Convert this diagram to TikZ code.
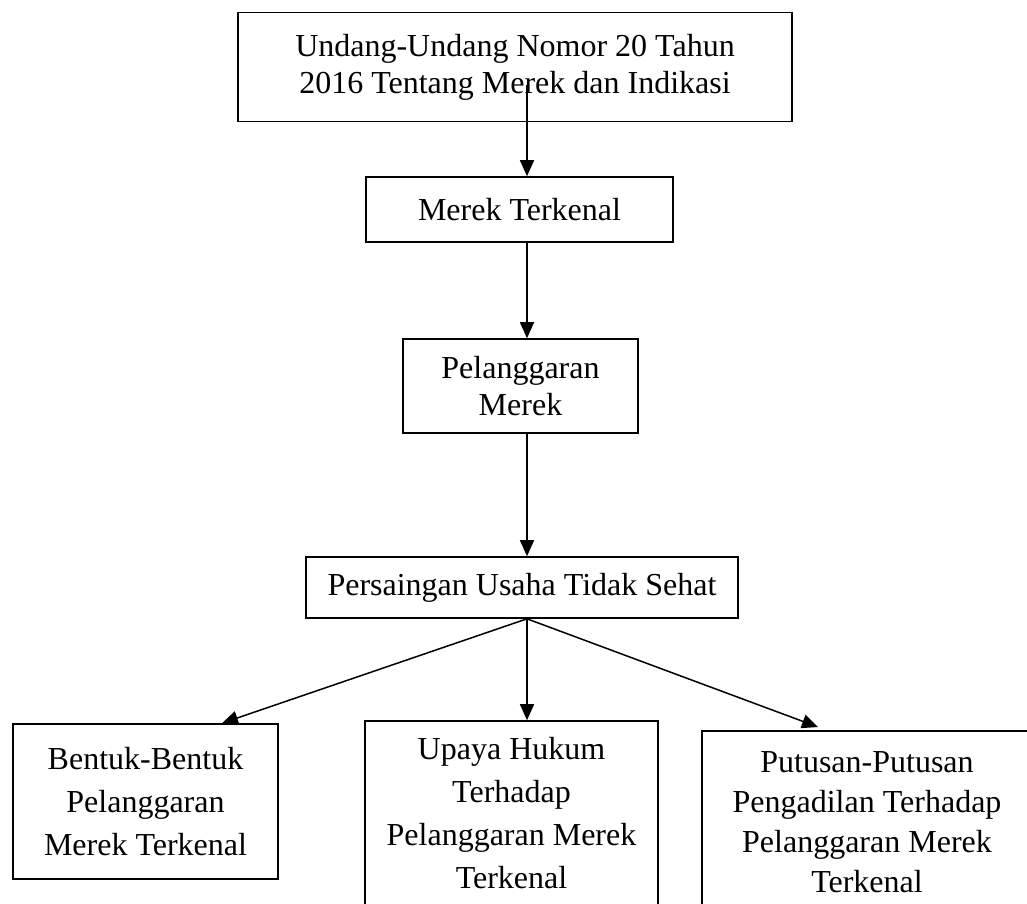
\documentclass[tikz,border=0pt]{standalone}
\usepackage{fontspec}
\setmainfont{Liberation Serif}
\usetikzlibrary{arrows.meta}
\begin{document}
\begin{tikzpicture}[x=1pt,y=-1pt,
  box/.style={draw,line width=1.6pt,rectangle,align=center,inner sep=0pt,
    font=\fontsize{32}{37}\selectfont},
  lowbox/.style={box,font=\fontsize{32}{43}\selectfont},
  arr/.style={line width=1.5pt,-{Triangle[length=16pt,width=14pt]}}]
\useasboundingbox (0,0) rectangle (1027,903);
\clip (0,0) rectangle (1027,903);
\node[box,minimum width=554pt,minimum height=109pt] (top) at (515,67)
  {Undang-Undang Nomor 20 Tahun\\2016 Tentang Merek dan Indikasi};
\node[box,minimum width=307pt,minimum height=65pt] (mt) at (519.5,209.5) {Merek Terkenal};
\node[box,minimum width=235pt,minimum height=94pt] (pm) at (520.5,386) {Pelanggaran\\Merek};
\node[box,minimum width=432pt,minimum height=61pt] (ps) at (522,587.5) {Persaingan Usaha Tidak Sehat};
\node[lowbox,minimum width=265pt,minimum height=155pt] (b1) at (145.5,801.5)
  {Bentuk-Bentuk\\Pelanggaran\\Merek Terkenal};
\node[lowbox,minimum width=293pt,minimum height=184pt] (b2) at (511.5,813)
  {Upaya Hukum\\Terhadap\\Pelanggaran Merek\\Terkenal};
\node[box,font=\fontsize{32}{40}\selectfont,minimum width=330pt,minimum height=182pt] (b3) at (867,822)
  {Putusan-Putusan\\Pengadilan Terhadap\\Pelanggaran Merek\\Terkenal};
\coordinate (ax) at (527,0);
\coordinate (s0) at (527,85);
\coordinate (hub) at (ax |- ps.south);
\coordinate (e1) at (222,0);
\coordinate (e3) at (818,727);
\draw[arr] (s0) -- (ax |- mt.north);
\draw[arr] (ax |- mt.south) -- (ax |- pm.north);
\draw[arr] (ax |- pm.south) -- (ax |- ps.north);
\draw[arr] (hub) -- (e1 |- b1.north);
\draw[arr] (hub) -- (ax |- b2.north);
\draw[arr] (hub) -- (e3);
\end{tikzpicture}
\end{document}
